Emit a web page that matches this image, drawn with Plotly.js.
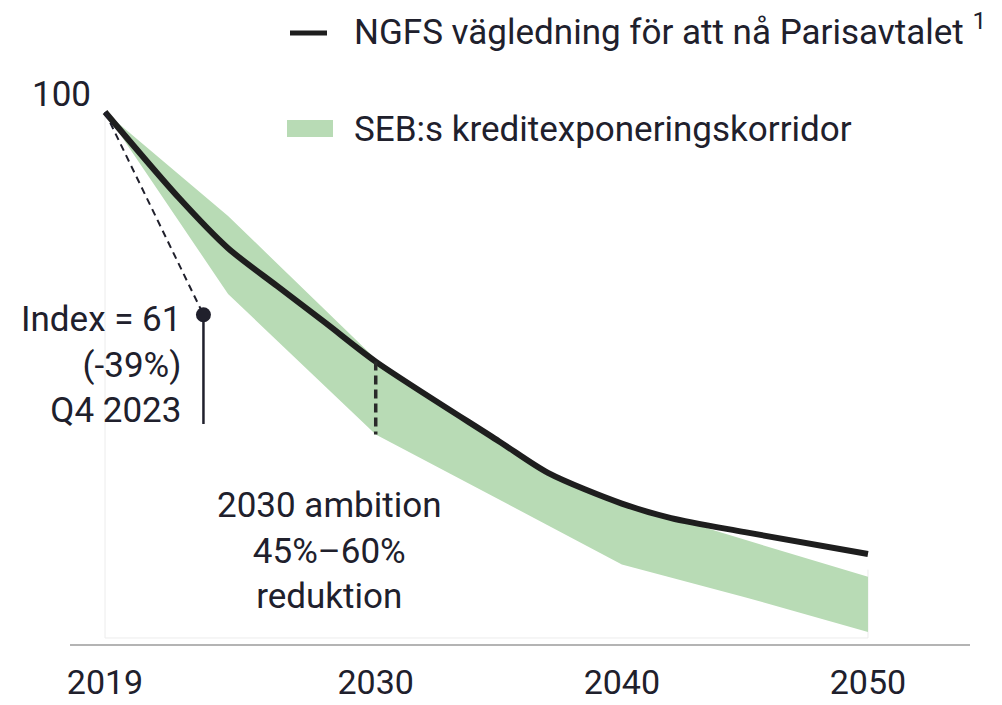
<!DOCTYPE html>
<html>
<head>
<meta charset="utf-8">
<script src="https://cdn.plot.ly/plotly-3.0.1.min.js"></script>
<style>
  html, body { margin: 0; padding: 0; background: #fff; }
  #chart { width: 1002px; height: 705px; }
</style>
</head>
<body>
<div id="chart"></div>
<script>
// NGFS pathway, index 2019 = 100
const ngfsYears = [2019, 2022, 2024, 2026, 2028, 2030, 2035, 2037, 2040, 2042, 2045, 2050];
const ngfsIndex = [100, 83.5, 73.8, 66.5, 59.3, 52, 36.7, 30.6, 24.7, 21.9, 19.2, 15.0];

// SEB corridor, upper and lower edge
const corridorUpperYears = [2019, 2024, 2030, 2035, 2037, 2040, 2043, 2050];
const corridorUpper = [100, 80, 52.5, 36.5, 30.5, 24.5, 20.6, 10.6];
const corridorLowerYears = [2019, 2024, 2030, 2040, 2045, 2050];
const corridorLower = [100, 65, 38, 13, 6.7, 0];

// outcome so far (Q4 2023)
const outcomeYears = [2019, 2023];
const outcomeIndex = [100, 61];
const outcomeStem = [61, 40];

// 2030 ambition marker
const ambitionYear = 2030;
const ambitionRange = [52, 38];

const tickYears = [2019, 2030, 2040, 2050];
const tickLabels = ["2019", "2030", "2040", "2050"];

const ink = "#20202c";
const green = "#b8dbb5";
const fontFam = "Roboto, 'Open Sans', sans-serif";

const traces = [
    {
        x: corridorLowerYears, y: corridorLower,
        mode: "lines", line: { width: 0 },
        hoverinfo: "skip", showlegend: false
    },
    {
        x: corridorUpperYears, y: corridorUpper,
        mode: "lines", line: { width: 0 },
        fill: "tonexty", fillcolor: green,
        name: "SEB:s kreditexponeringskorridor"
    },
    {
        x: ngfsYears, y: ngfsIndex,
        mode: "lines",
        line: { color: "#1e1e1e", width: 6, shape: "spline", smoothing: 0.8 },
        name: "NGFS vägledning för att nå Parisavtalet"
    },
    {
        x: outcomeYears, y: outcomeIndex,
        mode: "lines",
        line: { color: ink, width: 2, dash: "7px,5px" }
    },
    {
        x: [outcomeYears[1], outcomeYears[1]], y: outcomeStem,
        mode: "lines",
        line: { color: ink, width: 2.5 }
    },
    {
        x: [ambitionYear, ambitionYear], y: ambitionRange,
        mode: "lines",
        line: { color: "#2a2a2a", width: 3.5, dash: "9px,5px" }
    },
    {
        x: [outcomeYears[1]], y: [outcomeIndex[1]],
        mode: "markers",
        marker: { color: ink, size: 15 }
    }
];

// pixel helpers for the hand made legend (plot area 70..970 x 80..644)
const px = v => (v - 70) / 900;
const py = v => (644 - v) / 564;

const faint = { color: "#ececec", width: 1 };

const layout = {
    width: 1002,
    height: 705,
    margin: { l: 70, r: 32, t: 80, b: 61 },
    paper_bgcolor: "#fff",
    plot_bgcolor: "#fff",
    showlegend: false,
    font: { family: fontFam, size: 35, color: ink },
    xaxis: {
        range: [2017.578, 2054.145],
        tickvals: tickYears,
        ticktext: tickLabels,
        ticks: "",
        ticklabelstandoff: 7,
        showgrid: false,
        zeroline: false,
        showline: true,
        linecolor: "#b4b4b4",
        linewidth: 2,
        tickfont: { size: 34, color: ink },
        fixedrange: true
    },
    yaxis: {
        range: [-2.31, 106.15],
        showticklabels: false,
        showgrid: false,
        zeroline: false,
        showline: false,
        ticks: "",
        fixedrange: true
    },
    shapes: [
        { type: "line", layer: "below", x0: 2019, x1: 2019, y0: -1.15, y1: 100, line: faint },
        { type: "line", layer: "below", x0: 2050, x1: 2050, y0: -1.15, y1: 12, line: faint },
        { type: "line", layer: "below", x0: 2019, x1: 2050, y0: -1.15, y1: -1.15, line: faint },
        // legend swatches
        { type: "line", xref: "paper", yref: "paper",
          x0: px(290), x1: px(327), y0: py(33), y1: py(33),
          line: { color: "#1e1e1e", width: 5 } },
        { type: "rect", xref: "paper", yref: "paper",
          x0: px(287), x1: px(333), y0: py(137), y1: py(120),
          fillcolor: green, line: { width: 0 } }
    ],
    annotations: [
        { x: 2019, y: 100, text: "100", showarrow: false,
          xanchor: "right", yanchor: "middle", xshift: -12, yshift: 17 },
        { x: 2023, y: 51.3, text: "Index = 61<br>(-39%)<br>Q4 2023", showarrow: false,
          xanchor: "right", yanchor: "middle", align: "right", xshift: -20 },
        { x: 2028.14, y: 15.6, text: "2030 ambition<br>45%–60%<br>reduktion", showarrow: false,
          xanchor: "center", yanchor: "middle", align: "center" },
        { xref: "paper", yref: "paper", x: px(352), y: py(30),
          text: "NGFS vägledning för att nå Parisavtalet <sup>1</sup>", showarrow: false,
          xanchor: "left", yanchor: "middle" },
        { xref: "paper", yref: "paper", x: px(352), y: py(130),
          text: "SEB:s kreditexponeringskorridor", showarrow: false,
          xanchor: "left", yanchor: "middle" }
    ]
};

Plotly.newPlot("chart", traces, layout, { displayModeBar: false, staticPlot: true });
</script>
</body>
</html>
